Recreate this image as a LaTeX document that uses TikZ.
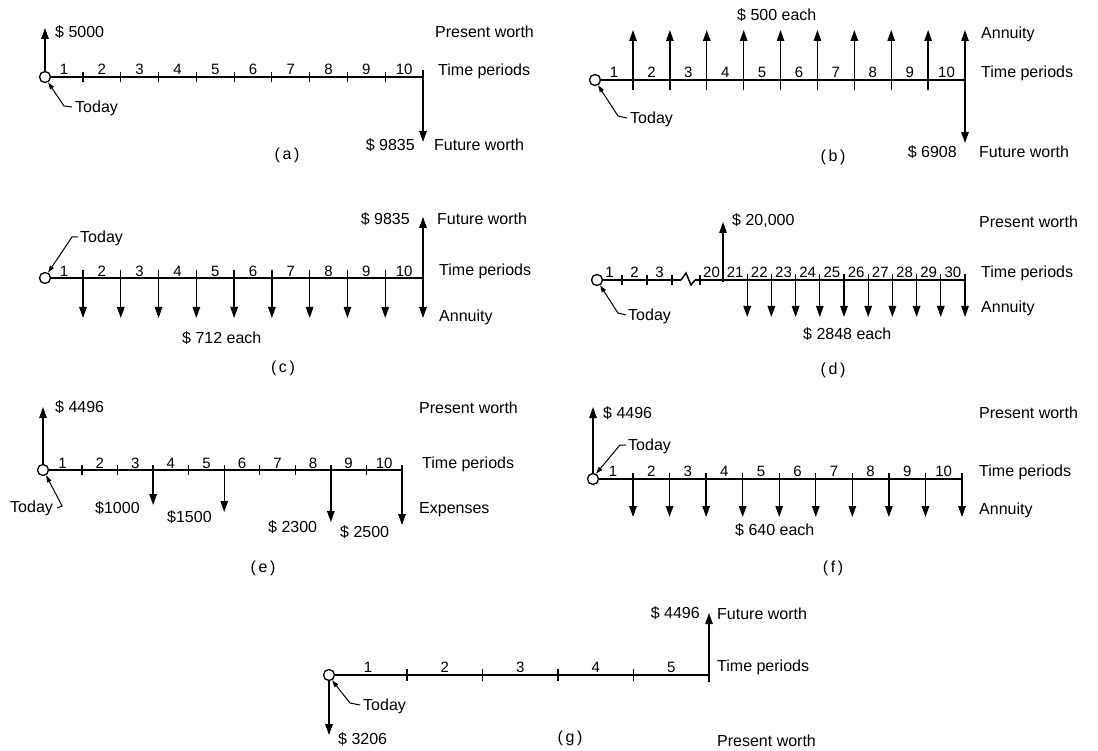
\documentclass[tikz,border=0pt]{standalone}
\usepackage{fontspec}
\setmainfont{Liberation Sans}
\usetikzlibrary{arrows.meta,calc}
\begin{document}
\begin{tikzpicture}[x=1pt,y=-1pt,
  axis/.style={line width=2.8pt},
  tickm/.style={line width=1.1pt},
  arr/.style={line width=1.3pt,-{Triangle[length=11pt,width=7.5pt]}},
  lead/.style={line width=1pt,-{Triangle[length=7pt,width=4.5pt]}},
  origin/.style={circle,draw,line width=1.3pt,fill=white,minimum size=11pt,inner sep=0pt},
  lbl/.style={anchor=west,inner sep=0pt,font=\fontsize{16}{18}\selectfont,text height=11.5pt,text depth=0pt},
  lble/.style={lbl,anchor=east},
  num/.style={inner sep=0pt,font=\fontsize{15}{17}\selectfont,text height=10.5pt,text depth=0pt},
  capt/.style={inner sep=0pt,font=\fontsize{16}{18}\selectfont,text height=11.5pt,text depth=3pt}
]
\useasboundingbox (0,0) rectangle (1098,751);
\fill[white] (0,0) rectangle (1098,751);

% ---------------- (a)
\coordinate (a0) at (45,77);
\foreach \k in {1,...,10} \coordinate (a\k) at ({83+(423-83)/9*(\k-1)},77);
\draw[axis] (a0) -- (a10);
\foreach \k in {1,...,9} \draw[tickm] ($(a\k)+(0,-5)$) -- ($(a\k)+(0,5)$);
\foreach \k [count=\j from 0] in {1,...,10} \node[num] at ($(a\j)!0.5!(a\k)+(0,-8)$) {\k};
\draw[arr] ($(a10)+(0,-7)$) -- ($(a10)+(0,65)$);
\node[origin] (aO) at (a0) {};
\draw[arr] (aO) -- ($(a0)+(0,-49)$);
\node[lbl] (a5000) at (55,32) {\$ 5000};
\node[lbl] (apw) at (435,32) {Present worth};
\node[lbl] (atp) at (438,70) {Time periods};
\node[lble] (a9835) at (415,145) {\$ 9835};
\node[lbl] (afw) at (434,145) {Future worth};
\node[capt] (acap) at (287,155) {(\,a\,)};
\node[lbl] (atoday) at (75,107) {Today};
\draw[lead] ($(atoday.west)+(-3,0)$) -- ++(-8,-1) -- (aO.-60);

% ---------------- (b)
\coordinate (b0) at (595,80);
\foreach \k in {1,...,10} \coordinate (b\k) at ({633+(965-633)/9*(\k-1)},80);
\draw[axis] (b0) -- (b10);
\foreach \k in {1,...,9} \draw[arr] ($(b\k)+(0,10)$) -- ($(b\k)+(0,-50)$);
\draw[arr] (b10) -- ++(0,-50);
\draw[arr] (b10) -- ++(0,63);
\foreach \k [count=\j from 0] in {1,...,10} \node[num] at ($(b\j)!0.5!(b\k)+(0,-8)$) {\k};
\node[origin] (bO) at (b0) {};
\node[lbl] (b500) at (737,15) {\$ 500 each};
\node[lbl] (bann) at (981,33) {Annuity};
\node[lbl] (btp) at (981,72) {Time periods};
\node[lble] (b6908) at (957,152) {\$ 6908};
\node[lbl] (bfw) at (979,152) {Future worth};
\node[capt] (bcap) at (833,157) {(\,b\,)};
\node[lbl] (btoday) at (630,118) {Today};
\draw[lead] ($(btoday.west)+(-3,0)$) -- ++(-9,-2) -- (bO.-60);

% ---------------- (c)
\coordinate (c0) at (45,278);
\foreach \k in {1,...,10} \coordinate (c\k) at ({83+(423-83)/9*(\k-1)},278);
\draw[axis] (c0) -- (c10);
\foreach \k in {1,...,10} \draw[arr] ($(c\k)+(0,-8)$) -- ($(c\k)+(0,40)$);
\draw[arr] (c10) -- ++(0,-61);
\foreach \k [count=\j from 0] in {1,...,10} \node[num] at ($(c\j)!0.5!(c\k)+(0,-7)$) {\k};
\node[origin] (cO) at (c0) {};
\node[lble] (c9835) at (410,219) {\$ 9835};
\node[lbl] (cfw) at (437,219) {Future worth};
\node[lbl] (ctp) at (439,270) {Time periods};
\node[lbl] (cann) at (439,316) {Annuity};
\node[lbl] (c712) at (182,338) {\$ 712 each};
\node[capt] (ccap) at (283,368) {(\,c\,)};
\node[lbl] (ctoday) at (80,237) {Today};
\draw[lead] ($(ctoday.west)+(-2,0)$) -- ++(-6,0) -- (cO.60);

% ---------------- (d)
\coordinate (d0) at (597,280);
\coordinate (d1) at (622,280);
\coordinate (d2) at (647,280);
\coordinate (d3) at (672,280);
\coordinate (d19) at (700,280);
\coordinate (d20) at (723,280);
\foreach \k in {21,...,30} \coordinate (d\k) at ({723+24.2*(\k-20)},280);
\draw[axis] (d0) -- (681,280);
\draw[line width=1.5pt] (681,280) -- (686,273) -- (691,285) -- (695,280);
\draw[axis] (695,280) -- (d30);
\foreach \k in {1,2,3,19} \draw[tickm] ($(d\k)+(0,-5)$) -- ($(d\k)+(0,5)$);
\draw[arr] ($(d20)+(0,2)$) -- ($(d20)+(0,-58)$);
\foreach \k in {21,...,30} \draw[arr] ($(d\k)+(0,-6)$) -- ($(d\k)+(0,37)$);
\foreach \k [count=\j from 0] in {1,2,3} \node[num] at ($(d\j)!0.5!(d\k)+(0,-8)$) {\k};
\foreach \k [count=\j from 19] in {20,...,30} \node[num] at ($(d\j)!0.5!(d\k)+(0,-8)$) {\k};
\node[origin] (dO) at (d0) {};
\node[lbl] (d20000) at (732,220) {\$ 20,000};
\node[lbl] (dpw) at (979,222) {Present worth};
\node[lbl] (dtp) at (981,272) {Time periods};
\node[lbl] (dann) at (981,307) {Annuity};
\node[lbl] (d2848) at (803,334) {\$ 2848 each};
\node[capt] (dcap) at (833,370) {(\,d\,)};
\node[lbl] (dtoday) at (628,315) {Today};
\draw[lead] ($(dtoday.west)+(-2,0)$) -- ++(-8,-2) -- (dO.-60);

% ---------------- (e)
\coordinate (e0) at (43,470);
\foreach \k in {1,...,10} \coordinate (e\k) at ({82+(402-82)/9*(\k-1)},470);
\draw[axis] (e0) -- (e10);
\foreach \k in {1,2,4,6,7,9} \draw[tickm] ($(e\k)+(0,-5)$) -- ($(e\k)+(0,5)$);
\draw[arr] ($(e3)+(0,-5)$) -- ($(e3)+(0,35)$);
\draw[arr] ($(e5)+(0,-5)$) -- ($(e5)+(0,42)$);
\draw[arr] ($(e8)+(0,-5)$) -- ($(e8)+(0,52)$);
\draw[arr] ($(e10)+(0,-5)$) -- ($(e10)+(0,55)$);
\foreach \k [count=\j from 0] in {1,...,10} \node[num] at ($(e\j)!0.5!(e\k)+(0,-7)$) {\k};
\node[origin] (eO) at (e0) {};
\draw[arr] (eO) -- ($(e0)+(0,-63)$);
\node[lbl] (e4496) at (55,407) {\$ 4496};
\node[lbl] (epw) at (419,408) {Present worth};
\node[lbl] (etp) at (422,463) {Time periods};
\node[lbl] (eexp) at (419,508) {Expenses};
\node[lbl] (e1000) at (95,508) {\$1000};
\node[lbl] (e1500) at (167,517) {\$1500};
\node[lbl] (e2300) at (268,527) {\$ 2300};
\node[lbl] (e2500) at (340,532) {\$ 2500};
\node[capt] (ecap) at (263,568) {(\,e\,)};
\node[lbl] (etoday) at (10,507) {Today};
\draw[lead] ($(etoday.east)+(4,1)$) -- ++(5,-2) -- (eO.-60);

% ---------------- (f)
\coordinate (f0) at (593,479);
\foreach \k in {1,...,10} \coordinate (f\k) at ({633+(962-633)/9*(\k-1)},479);
\draw[axis] (f0) -- (f10);
\foreach \k in {1,...,10} \draw[arr] ($(f\k)+(0,-6)$) -- ($(f\k)+(0,38)$);
\foreach \k [count=\j from 0] in {1,...,10} \node[num] at ($(f\j)!0.5!(f\k)+(0,-8)$) {\k};
\node[origin] (fO) at (f0) {};
\draw[arr] (fO) -- ($(f0)+(0,-72)$);
\node[lbl] (f4496) at (603,413) {\$ 4496};
\node[lbl] (fpw) at (979,413) {Present worth};
\node[lbl] (ftp) at (979,471) {Time periods};
\node[lbl] (fann) at (979,509) {Annuity};
\node[lbl] (f640) at (735,530) {\$ 640 each};
\node[capt] (fcap) at (833,568) {(\,f\,)};
\node[lbl] (ftoday) at (628,445) {Today};
\draw[lead] ($(ftoday.west)+(-2,0)$) -- ++(-6,0) -- (fO.60);

% ---------------- (g)
\coordinate (g0) at (329,675);
\foreach \k in {1,...,5} \coordinate (g\k) at ({407+(709-407)/4*(\k-1)},675);
\draw[axis] (g0) -- (g5);
\foreach \k in {1,...,4} \draw[tickm] ($(g\k)+(0,-6)$) -- ($(g\k)+(0,6)$);
\draw[arr] ($(g5)+(0,7)$) -- ($(g5)+(0,-62)$);
\foreach \k [count=\j from 0] in {1,...,5} \node[num] at ($(g\j)!0.5!(g\k)+(0,-8)$) {\k};
\node[origin] (gO) at (g0) {};
\draw[arr] (gO) -- ($(g0)+(0,60)$);
\node[lble] (g4496) at (700,613) {\$ 4496};
\node[lbl] (gfw) at (717,614) {Future worth};
\node[lbl] (gtp) at (717,666) {Time periods};
\node[lbl] (gpw) at (717,741) {Present worth};
\node[lbl] (g3206) at (338,739) {\$ 3206};
\node[capt] (gcap) at (570,738) {(\,g\,)};
\node[lbl] (gtoday) at (363,705) {Today};
\draw[lead] ($(gtoday.west)+(-3,0)$) -- ++(-10,-2) -- (gO.-60);
\end{tikzpicture}
\end{document}
